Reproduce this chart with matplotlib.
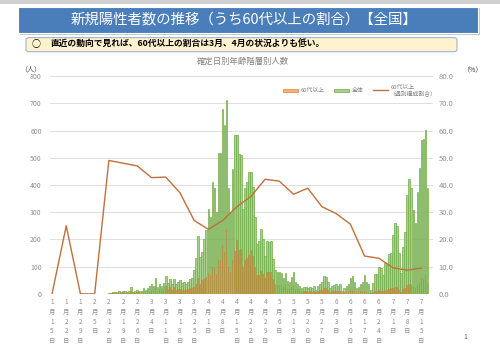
import matplotlib
matplotlib.use("Agg")
import matplotlib.pyplot as plt
from matplotlib.patches import Rectangle, FancyBboxPatch, Patch
from matplotlib.lines import Line2D
import numpy as np

plt.rcParams['font.family'] = ['Noto Sans CJK JP', 'DejaVu Sans']

# %% Data (daily, from 1/15)
total = [0, 0, 0, 0, 0, 1, 1, 1, 0, 0, 1, 0, 1, 1, 2, 0, 1, 2, 0, 0, 1, 0, 0, 0, 1, 0, 1, 1,
         3, 5, 8, 8, 6, 9, 7, 12, 10, 8, 10, 25, 8, 10, 14, 12, 9, 22,
         15, 20, 28, 35, 30, 60, 25, 35, 30, 40, 65, 40, 55, 38, 55, 35, 45,
         50, 40, 42, 38, 45, 55, 60,
         88, 132, 213, 135, 155, 200, 235,
         311, 281, 411, 390, 300, 517, 517,
         679, 622, 712, 390, 300, 457, 583,
         583, 514, 510, 310, 390, 410, 446,
         449, 394, 284, 185, 193, 238, 200,
         140, 193, 190, 193, 130, 87, 80,
         80, 75, 60, 78, 47, 42, 63,
         80, 45, 38, 28, 20, 27, 27,
         20, 27, 20, 28, 15, 30, 38,
         45, 65, 63, 42, 20, 30, 32,
         35, 30, 38, 12, 20, 28, 38,
         60, 65, 45, 20, 25, 38, 45,
         68, 45, 38, 15, 40, 74, 72,
         100, 95, 70, 112, 107, 145, 150,
         215, 262, 250, 150, 78, 174, 229,
         363, 421, 388, 308, 262, 375, 461,
         565, 570, 602, 388]

over60 = [0, 0, 0, 0, 0, 0, 0, 1, 0, 0, 0, 0, 0, 0, 0, 0, 0, 0, 0, 0, 0, 0, 0, 0, 0, 0, 0, 0,
          1, 3, 4, 4, 3, 4, 3, 6, 5, 4, 5, 12, 4, 5, 7, 6, 4, 10,
          7, 9, 12, 15, 13, 26, 11, 15, 13, 17, 28, 17, 24, 16, 24, 15, 19,
          19, 15, 16, 14, 17, 20, 22,
          24, 36, 58, 36, 50, 54, 63,
          75, 68, 99, 94, 72, 124, 124,
          180, 155, 237, 100, 80, 123, 157,
          198, 161, 165, 100, 125, 131, 143,
          160, 140, 100, 70, 70, 85, 72,
          60, 80, 80, 81, 55, 37, 34,
          33, 31, 25, 32, 19, 17, 26,
          29, 16, 14, 10, 7, 10, 10,
          8, 10, 8, 11, 6, 12, 15,
          14, 20, 20, 13, 6, 10, 10,
          10, 9, 11, 4, 6, 8, 11,
          15, 16, 11, 5, 6, 10, 12,
          9, 6, 5, 2, 6, 10, 10,
          13, 12, 9, 15, 14, 19, 20,
          21, 25, 24, 14, 8, 17, 22,
          31, 36, 33, 27, 22, 32, 40,
          60, 55, 70, 40]

# weekly share of 60+ (%)
ratio = [0, 25, 0, 0, 49, 48, 47, 42.7, 42.9, 37.2, 27, 23.7, 26.9, 32, 35.8, 42.1,
         41.4, 36.6, 38.8, 32, 29.5, 25.6, 13.9, 13.1, 9.6, 8.7, 9.5]

tick_labels = ["1月15日", "1月22日", "1月29日", "2月5日", "2月12日", "2月19日", "2月26日",
               "3月4日", "3月11日", "3月18日", "3月25日", "4月1日", "4月8日", "4月15日",
               "4月22日", "4月29日", "5月6日", "5月13日", "5月20日", "5月27日", "6月3日",
               "6月10日", "6月17日", "6月24日", "7月1日", "7月8日", "7月15日"]

# %% Figure
fig = plt.figure(figsize=(5, 3.52), dpi=100)

# top gray strip
fig.add_artist(Rectangle((0, 0.99), 1, 0.01, transform=fig.transFigure, color='#d0d0d0', lw=0))

# title banner
fig.add_artist(Rectangle((0.040, 0.900), 0.920, 0.078, transform=fig.transFigure,
                         facecolor='#c8c8c8', edgecolor='none'))
fig.add_artist(Rectangle((0.036, 0.906), 0.920, 0.074, transform=fig.transFigure,
                         facecolor='#4a7ebb', edgecolor='white', lw=0.8))
fig.text(0.488, 0.945, "新規陽性者数の推移（うち60代以上の割合）【全国】", color='white',
         fontsize=10.4, ha='center', va='center')

# summary box
fig.add_artist(FancyBboxPatch((0.052, 0.853), 0.862, 0.040, boxstyle="round,pad=0,rounding_size=0.006",
                              transform=fig.transFigure, facecolor='#fff2cc', edgecolor='#8faadc', lw=0.7))
fig.text(0.064, 0.873, "○", fontsize=6.5, ha='left', va='center', color='black')
fig.text(0.102, 0.873, "直近の動向で見れば、60代以上の割合は3月、4月の状況よりも低い。",
         fontsize=6.3, ha='left', va='center', fontweight='bold', color='black')

fig.text(0.486, 0.826, "確定日別年齢階層別人数", fontsize=6, ha='center', va='center', color='#808080')
fig.text(0.062, 0.803, "（人）", fontsize=5, ha='center', va='center', color='#404040')
fig.text(0.944, 0.800, "（%）", fontsize=5, ha='center', va='center', color='#404040')
fig.text(0.930, 0.042, "1", fontsize=5, ha='center', va='center', color='#606060')

ax = fig.add_axes([0.1, 0.165, 0.766, 0.619])
days = np.arange(len(total))

ax.bar(days, total, width=0.8, color='#a9d18e', edgecolor='#70ad47', linewidth=0.5, zorder=2)
ax.bar(days, over60, width=0.8, color='#c08a3a', alpha=0.75, linewidth=0, zorder=3)

ax.set_xlim(-1, 187.7)
ax.set_ylim(0, 800)
ax.set_yticks(range(0, 801, 100))
ax.grid(axis='y', color='#d9d9d9', linewidth=0.6, zorder=0)
ax.set_axisbelow(True)
for s in ax.spines.values():
    s.set_visible(False)

tick_pos = np.arange(0, 7 * len(tick_labels), 7)
ax.set_xticks(tick_pos)
ax.set_xticklabels(["\n".join(t) for t in tick_labels], fontsize=4.6, color='#909090', linespacing=1.3,
                   va='top')
ax.tick_params(axis='x', length=0, pad=3)
ax.tick_params(axis='y', length=0, labelsize=5, labelcolor='#909090', pad=6)

ax2 = ax.twinx()
ax2.plot(tick_pos, ratio, color='#c0703a', linewidth=1.0, zorder=4)
ax2.set_ylim(0, 80)
ax2.set_yticks(range(0, 81, 10))
ax2.set_yticklabels([f"{v:.1f}" for v in range(0, 81, 10)])
ax2.tick_params(axis='y', length=0, labelsize=5.5, labelcolor='#909090', pad=4)
for s in ax2.spines.values():
    s.set_visible(False)

handles = [Patch(facecolor='#f4b183', edgecolor='#ed7d31', lw=0.5),
           Patch(facecolor='#a9d18e', edgecolor='#70ad47', lw=0.5),
           Line2D([0], [0], color='#c0703a', lw=1.0)]
labels = ["60代以上", "全体", "60代以上\n（週別構成割合）"]
fig.legend(handles, labels, loc='upper right', bbox_to_anchor=(0.885, 0.775), ncol=3, frameon=False,
           fontsize=4.2, handlelength=2.6, handleheight=0.6, handletextpad=0.4, columnspacing=1.6,
           labelcolor='#808080')

fig.savefig("out.png", dpi=100)
